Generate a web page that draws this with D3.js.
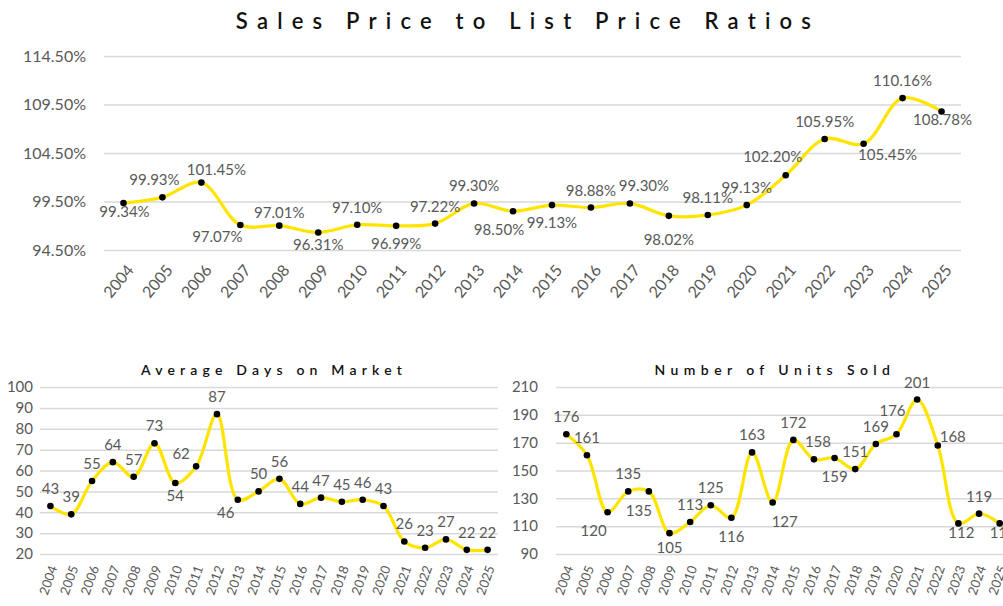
<!DOCTYPE html>
<html>
<head>
<meta charset="utf-8">
<script src="https://cdn.jsdelivr.net/npm/d3@7"></script>
<style>
  body { margin: 0; background: #fff; }
  svg { display: block; font-family: Lato, "Open Sans", sans-serif; }
</style>
</head>
<body>
<svg id="chart" width="1003" height="606"></svg>
<script>
// data
var years = ["2004","2005","2006","2007","2008","2009","2010","2011","2012","2013","2014",
             "2015","2016","2017","2018","2019","2020","2021","2022","2023","2024","2025"];

var ratioValues = [99.34, 99.93, 101.45, 97.07, 97.01, 96.31, 97.10, 96.99, 97.22, 99.30, 98.50,
                   99.13, 98.88, 99.30, 98.02, 98.11, 99.13, 102.20, 105.95, 105.45, 110.16, 108.78];
var ratioTicks = [94.5, 99.5, 104.5, 109.5, 114.5];
// where each data label sits relative to its point
var ratioLabelSide = ["b1","al","ar","bl","a2","b3","a","b","a","a","bl2",
                      "b","a","ar2","b4","a","a","l","a","br","a","b1"];

var domValues = [43, 39, 55, 64, 57, 73, 54, 62, 87, 46, 50, 56, 44, 47, 45, 46, 43, 26, 23, 27, 22, 22];
var domTicks = [20, 30, 40, 50, 60, 70, 80, 90, 100];
var domLabelSide = ["a","a","a","a","a","a","b","l","a","bl","a",
                    "a","a","a","a","a","a","a","a","a","a","a"];

var unitValues = [176, 161, 120, 135, 135, 105, 113, 125, 116, 163, 127,
                  172, 158, 159, 151, 169, 176, 201, 168, 112, 119, 112];
var unitTicks = [90, 110, 130, 150, 170, 190, 210];
var unitLabelSide = ["a","a","bl","a","bl2","b2","a","a","b","a","br",
                     "a","ar","b","a","a","l","a","r","b1","a","b1"];

var svg = d3.select("#chart");
var lineColor = "#ffe400";
var textColor = "#595959";
var gridColor = "#d9d9d9";

function drawChart(opt) {
    var g = svg.append("g");

    var x = d3.scaleBand().domain(years).range([opt.left, opt.right]);
    var y = d3.scaleLinear().domain([opt.ticks[0], opt.ticks[opt.ticks.length - 1]])
        .range([opt.bottom, opt.top]);
    var cx = function (d, i) { return x(years[i]) + x.bandwidth() / 2; };

    // title
    g.append("text")
        .attr("x", opt.titleX)
        .attr("y", opt.titleY)
        .attr("text-anchor", "middle")
        .style("font-size", opt.titleSize + "px")
        .style("letter-spacing", opt.titleSpacing + "px")
        .style("font-weight", 600)
        .attr("fill", "#111")
        .text(opt.title);

    // y axis with gridlines
    var yAxis = d3.axisLeft(y)
        .tickValues(opt.ticks)
        .tickSize(-(opt.right - opt.left))
        .tickPadding(opt.tickPad)
        .tickFormat(opt.tickFormat);
    var ya = g.append("g").attr("transform", "translate(" + opt.left + ",0)").call(yAxis);
    ya.select(".domain").remove();
    ya.selectAll("line").attr("stroke", gridColor).attr("stroke-width", 1.5);
    ya.selectAll("text").attr("fill", textColor)
        .style("font-size", opt.axisSize + "px")
        .style("font-family", "Lato, sans-serif");

    // x axis labels
    var xAxis = d3.axisBottom(x).tickSize(0).tickPadding(0);
    var xa = g.append("g").attr("transform", "translate(0," + opt.bottom + ")").call(xAxis);
    xa.select(".domain").remove();
    xa.selectAll("text")
        .attr("fill", textColor)
        .style("font-size", opt.xSize + "px")
        .style("font-family", "Lato, sans-serif")
        .attr("text-anchor", "end")
        .attr("dy", "0.35em")
        .attr("transform", "translate(" + opt.xShift + "," + opt.xDrop + ") rotate(" + opt.xAngle + ")");

    // line
    var line = d3.line()
        .x(cx)
        .y(function (d) { return y(d); })
        .curve(d3.curveCatmullRom.alpha(0.5));
    g.append("path")
        .datum(opt.values)
        .attr("d", line)
        .attr("fill", "none")
        .attr("stroke", lineColor)
        .attr("stroke-width", 3.2);

    // markers
    g.selectAll("circle.pt")
        .data(opt.values)
        .enter()
        .append("circle")
        .attr("class", "pt")
        .attr("cx", cx)
        .attr("cy", function (d) { return y(d); })
        .attr("r", 3.3)
        .attr("fill", "#000");

    // data labels
    var off = opt.labelOffset;
    g.selectAll("text.lbl")
        .data(opt.values)
        .enter()
        .append("text")
        .attr("class", "lbl")
        .attr("text-anchor", "middle")
        .attr("fill", textColor)
        .style("font-size", opt.labelSize + "px")
        .attr("x", function (d, i) { return cx(d, i) + off[opt.sides[i]][0]; })
        .attr("y", function (d, i) { return y(d) + off[opt.sides[i]][1]; })
        .text(function (d) { return opt.labelFormat(d); });
}

drawChart({
    title: "Sales Price to List Price Ratios",
    titleX: 528, titleY: 29, titleSize: 22, titleSpacing: 9.2,
    left: 104, right: 961, top: 56, bottom: 250,
    ticks: ratioTicks, tickPad: 18, axisSize: 16,
    tickFormat: function (d) { return d.toFixed(2) + "%"; },
    xSize: 16, xAngle: -50, xShift: 7, xDrop: 17,
    values: ratioValues, sides: ratioLabelSide, labelSize: 15,
    labelFormat: function (d) { return d.toFixed(2) + "%"; },
    labelOffset: {
        a: [0, -12], a2: [0, -8], al: [-8, -12], ar: [15, -8], ar2: [14, -12], l: [-13, -13],
        b: [0, 23], b1: [1, 14], b3: [0, 18], b4: [0, 29], bl: [-23, 17], bl2: [-14, 24], br: [24, 16]
    }
});

drawChart({
    title: "Average Days on Market",
    titleX: 274, titleY: 375, titleSize: 14, titleSpacing: 5.2,
    left: 40, right: 498, top: 387, bottom: 554,
    ticks: domTicks, tickPad: 7, axisSize: 15,
    tickFormat: d3.format("d"),
    xSize: 13, xAngle: -70, xShift: 3, xDrop: 12,
    values: domValues, sides: domLabelSide, labelSize: 15,
    labelFormat: d3.format("d"),
    labelOffset: { a: [0, -12], b: [0, 18], l: [-15, -7], bl: [-12, 18] }
});

drawChart({
    title: "Number of Units Sold",
    titleX: 775, titleY: 375, titleSize: 14, titleSpacing: 5.4,
    left: 556, right: 1010, top: 387, bottom: 554,
    ticks: unitTicks, tickPad: 18, axisSize: 15,
    tickFormat: d3.format("d"),
    xSize: 13, xAngle: -70, xShift: 3, xDrop: 12,
    values: unitValues, sides: unitLabelSide, labelSize: 15,
    labelFormat: d3.format("d"),
    labelOffset: {
        a: [0, -12], ar: [4, -12], l: [-4, -18], r: [15, -3],
        b: [0, 24], b1: [3, 15], b2: [0, 20], bl: [-14, 24], bl2: [-10, 25], br: [12, 24]
    }
});
</script>
</body>
</html>
